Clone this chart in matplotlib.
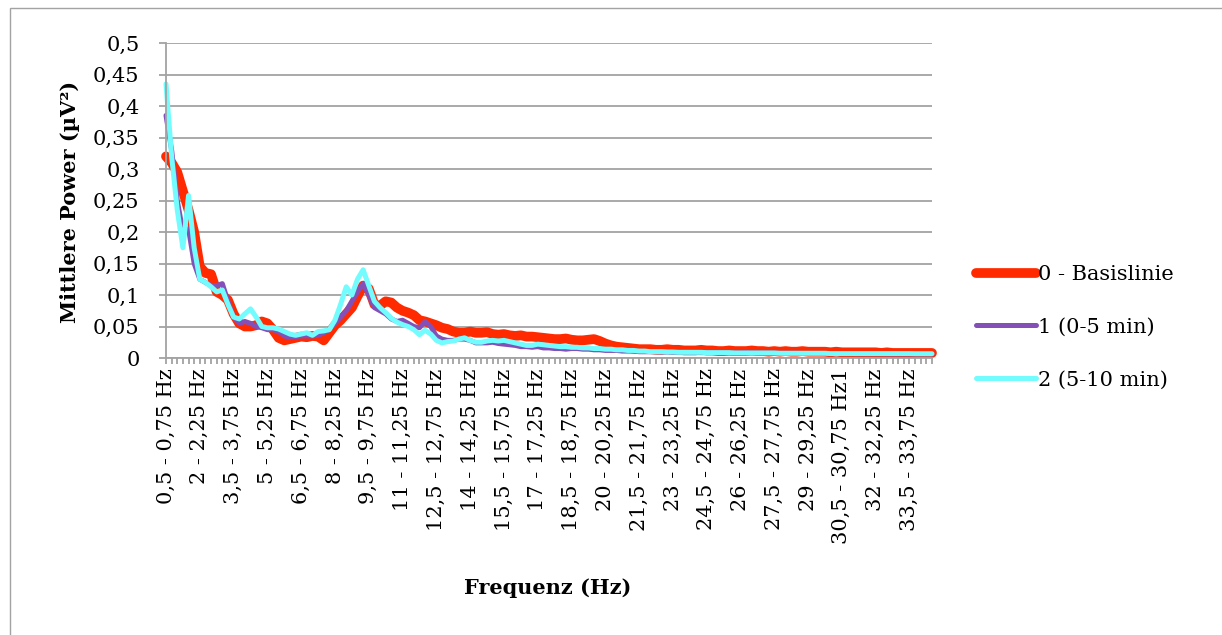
import numpy as np
import matplotlib.pyplot as plt
from matplotlib.patches import Rectangle

plt.rcParams['font.family'] = ['DejaVu Serif']
plt.rcParams['font.size'] = 15

# Mittlere Power pro Frequenzband (0,25 Hz Schritte ab 0,5 Hz)
basis = [
    0.32, 0.31, 0.295, 0.265, 0.235, 0.2, 0.145, 0.135, 0.133, 0.105,
    0.1, 0.092, 0.07, 0.055, 0.05, 0.05, 0.052, 0.058, 0.055, 0.045,
    0.032, 0.028, 0.03, 0.032, 0.034, 0.033, 0.035, 0.034, 0.028, 0.04,
    0.052, 0.06, 0.07, 0.08, 0.098, 0.115, 0.11, 0.085, 0.083, 0.09,
    0.088, 0.08, 0.075, 0.072, 0.068, 0.06, 0.058, 0.055, 0.052, 0.048,
    0.046, 0.042, 0.04, 0.04, 0.042, 0.04, 0.04, 0.041, 0.038, 0.037,
    0.038, 0.036, 0.035, 0.036, 0.034, 0.034, 0.033, 0.032, 0.031, 0.03,
    0.03, 0.031, 0.029, 0.028, 0.028, 0.029, 0.03, 0.027, 0.023, 0.02,
    0.018, 0.017, 0.016, 0.015, 0.014, 0.014, 0.014, 0.013, 0.013, 0.014,
    0.013, 0.013, 0.012, 0.012, 0.012, 0.013, 0.012, 0.012, 0.011, 0.011,
    0.012, 0.011, 0.011, 0.011, 0.012, 0.011, 0.011, 0.01, 0.011, 0.01,
    0.011, 0.01, 0.01, 0.011, 0.01, 0.01, 0.01, 0.01, 0.009, 0.01,
    0.009, 0.009, 0.009, 0.009, 0.009, 0.009, 0.009, 0.008, 0.009, 0.008,
    0.008, 0.008, 0.008, 0.008, 0.008, 0.008, 0.008]

min_0_5 = [
    0.385, 0.33, 0.25, 0.2, 0.205, 0.15, 0.125, 0.12, 0.115, 0.115,
    0.118, 0.09, 0.065, 0.055, 0.058, 0.055, 0.05, 0.048, 0.045, 0.045,
    0.042, 0.035, 0.033, 0.034, 0.035, 0.035, 0.035, 0.036, 0.04, 0.045,
    0.055, 0.065, 0.075, 0.09, 0.105, 0.118, 0.1, 0.08, 0.075, 0.07,
    0.062, 0.058, 0.06, 0.055, 0.05, 0.048, 0.058, 0.05, 0.035, 0.03,
    0.028, 0.028, 0.03, 0.03, 0.028, 0.024, 0.024, 0.024, 0.025, 0.023,
    0.022, 0.021, 0.02, 0.018, 0.018, 0.017, 0.018, 0.016, 0.016, 0.015,
    0.015, 0.014, 0.015, 0.015, 0.014, 0.014, 0.013, 0.013, 0.012, 0.012,
    0.012, 0.011, 0.011, 0.011, 0.01, 0.01, 0.01, 0.01, 0.0095, 0.0095,
    0.009, 0.009, 0.0095, 0.009, 0.009, 0.0085, 0.0085, 0.0085, 0.0085, 0.008,
    0.008, 0.008, 0.008, 0.0085, 0.008, 0.008, 0.0078, 0.0078, 0.0078, 0.0075,
    0.0075, 0.0075, 0.0075, 0.0072, 0.0072, 0.0072, 0.0072, 0.007, 0.007, 0.007,
    0.007, 0.007, 0.007, 0.0068, 0.0068, 0.0068, 0.0068, 0.0068, 0.0066, 0.0066,
    0.0066, 0.0066, 0.0066, 0.0065, 0.0065, 0.0065, 0.0065]

min_5_10 = [
    0.435, 0.32, 0.235, 0.175, 0.258, 0.175, 0.125, 0.12, 0.113, 0.105,
    0.108, 0.085, 0.065, 0.062, 0.07, 0.078, 0.065, 0.05, 0.048, 0.048,
    0.046, 0.042, 0.038, 0.036, 0.038, 0.04, 0.036, 0.042, 0.043, 0.045,
    0.06, 0.085, 0.113, 0.1, 0.125, 0.14, 0.115, 0.09, 0.08, 0.072,
    0.063, 0.057, 0.053, 0.05, 0.045, 0.037, 0.044, 0.038, 0.028, 0.024,
    0.026, 0.027, 0.03, 0.032, 0.028, 0.025, 0.025, 0.027, 0.028, 0.027,
    0.028, 0.026, 0.024, 0.022, 0.02, 0.02, 0.022, 0.021, 0.02, 0.019,
    0.018, 0.018, 0.017, 0.017, 0.016, 0.016, 0.015, 0.015, 0.014, 0.014,
    0.013, 0.013, 0.012, 0.012, 0.011, 0.011, 0.01, 0.01, 0.01, 0.0095,
    0.0095, 0.009, 0.009, 0.009, 0.009, 0.009, 0.0085, 0.0085, 0.0085, 0.0085,
    0.0085, 0.008, 0.008, 0.008, 0.008, 0.008, 0.008, 0.008, 0.008, 0.0075,
    0.0075, 0.0075, 0.0075, 0.0075, 0.0075, 0.0075, 0.0075, 0.0075, 0.007, 0.007,
    0.007, 0.007, 0.007, 0.007, 0.007, 0.007, 0.007, 0.007, 0.007, 0.007,
    0.007, 0.007, 0.007, 0.0068, 0.0068, 0.0068, 0.0068]

# jede 6. Kategorie beschriftet
x_labels = ["0,5 - 0,75 Hz", "2 - 2,25 Hz", "3,5 - 3,75 Hz", "5 - 5,25 Hz",
            "6,5 - 6,75 Hz", "8 - 8,25 Hz", "9,5 - 9,75 Hz", "11 - 11,25 Hz",
            "12,5 - 12,75 Hz", "14 - 14,25 Hz", "15,5 - 15,75 Hz", "17 - 17,25 Hz",
            "18,5 - 18,75 Hz", "20 - 20,25 Hz", "21,5 - 21,75 Hz", "23 - 23,25 Hz",
            "24,5 - 24,75 Hz", "26 - 26,25 Hz", "27,5 - 27,75 Hz", "29 - 29,25 Hz",
            "30,5 - 30,75 Hz1", "32 - 32,25 Hz", "33,5 - 33,75 Hz"]
y_ticks = [0, 0.05, 0.1, 0.15, 0.2, 0.25, 0.3, 0.35, 0.4, 0.45, 0.5]
y_labels = ["0", "0,05", "0,1", "0,15", "0,2", "0,25", "0,3", "0,35", "0,4", "0,45", "0,5"]

W, H = 1222, 635
grau = '#a3a3a3'

fig = plt.figure(figsize=(W/100, H/100), dpi=100)
ax = fig.add_axes([166/W, 1-358/H, (932-166)/W, (358-43)/H])

x = np.arange(len(basis))
kw = dict(solid_capstyle='round', solid_joinstyle='round', clip_on=False)
ax.plot(x, basis, color='#ff2a00', lw=7, label='0 - Basislinie', **kw)
ax.plot(x, min_0_5, color='#8450b8', lw=3.6, label='1 (0-5 min)', **kw)
ax.plot(x, min_5_10, color='#72fcfd', lw=3.6, label='2 (5-10 min)', **kw)

ax.set_xlim(0, len(basis)-1)
ax.set_ylim(0, 0.5)
ax.set_yticks(y_ticks)
ax.set_yticklabels(y_labels)

lbls = [''] * len(basis)
for k, t in enumerate(x_labels):
    lbls[6*k] = t
ax.set_xticks(x)
ax.set_xticklabels(lbls, rotation=90)

ax.yaxis.grid(True, color=grau, lw=1.3)
ax.set_axisbelow(True)
for s in ['top', 'right']:
    ax.spines[s].set_visible(False)
for s in ['left', 'bottom']:
    ax.spines[s].set_color(grau)
    ax.spines[s].set_linewidth(1.3)
ax.tick_params(axis='x', length=4.5, width=1.3, color=grau, pad=3)
ax.tick_params(axis='y', length=5, width=1.3, color=grau, pad=14)

fig.text(70/W, 1-202/H, 'Mittlere Power (µV²)', rotation=90, ha='center', va='center',
         fontweight='bold', fontsize=15)
fig.text(548/W, 1-588/H, 'Frequenz (Hz)', ha='center', va='center',
         fontweight='bold', fontsize=15)

fig.legend(loc='upper left', bbox_to_anchor=(976/W, 1-265/H), frameon=False,
           borderpad=0, borderaxespad=0, handlelength=2.9, handletextpad=0.1,
           labelspacing=1.62)

# Rahmen des Diagramms
fig.add_artist(Rectangle((10/W, -0.1), 1.2, 1.1-8/H, transform=fig.transFigure,
                         fill=False, edgecolor=grau, lw=1))

fig.savefig('out.png', dpi=100)
